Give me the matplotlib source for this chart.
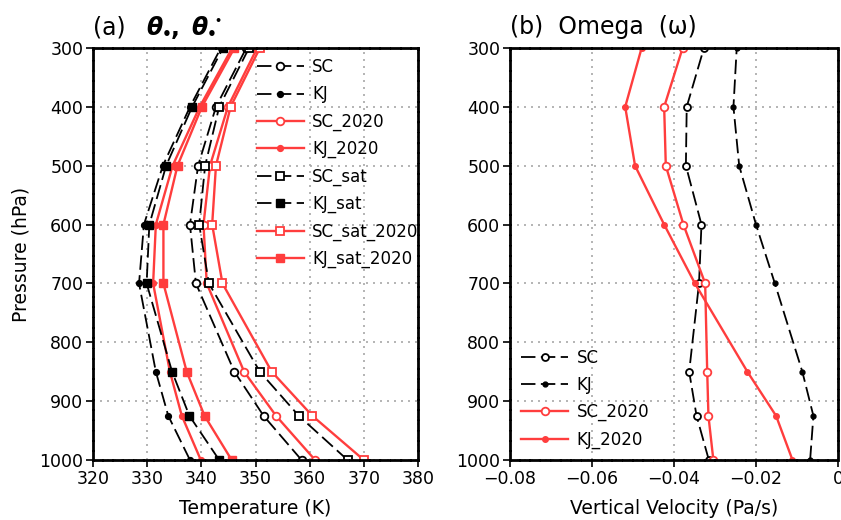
import numpy as np
import matplotlib
matplotlib.use('Agg')
import matplotlib.pyplot as plt

# pressure levels (hPa)
lev = [1000, 925, 850, 700, 600, 500, 400, 300]

# (a) equivalent potential temperature and saturated version (K)
sc = [358.5, 351.5, 346.1, 339.0, 337.9, 339.4, 342.7, 348.3]
kj = [337.9, 333.9, 331.6, 328.5, 329.4, 332.9, 337.9, 343.6]
sc_2020 = [361.0, 353.8, 347.9, 341.0, 340.4, 341.6, 344.9, 350.3]
kj_2020 = [339.9, 336.4, 334.2, 331.1, 331.6, 334.7, 339.7, 345.7]
sc_sat = [367.0, 358.0, 350.8, 341.4, 339.6, 340.7, 343.3, 348.8]
kj_sat = [343.3, 337.8, 334.6, 329.9, 330.4, 333.5, 338.3, 344.0]
sc_sat_2020 = [370.0, 360.5, 353.0, 343.9, 342.0, 342.7, 345.4, 350.8]
kj_sat_2020 = [345.6, 340.6, 337.3, 333.0, 333.0, 335.6, 340.1, 346.1]

# (b) omega (Pa/s)
w_sc = [-0.0315, -0.0345, -0.0363, -0.0339, -0.0333, -0.0371, -0.0369, -0.0327]
w_kj = [-0.0068, -0.0060, -0.0087, -0.0154, -0.0200, -0.0241, -0.0255, -0.0247]
w_sc_2020 = [-0.0304, -0.0316, -0.0319, -0.0324, -0.0377, -0.0420, -0.0424, -0.0379]
w_kj_2020 = [-0.0111, -0.0151, -0.0221, -0.0349, -0.0424, -0.0495, -0.0519, -0.0479]

temp_ticks = [320, 330, 340, 350, 360, 370, 380]
w_ticks = [-0.08, -0.06, -0.04, -0.02, 0]
w_labels = ['\u22120.08', '\u22120.06', '\u22120.04', '\u22120.02', '0']
p_ticks = [300, 400, 500, 600, 700, 800, 900, 1000]

RED = '#ff3d3d'
dash = (0, (8, 3))

fig = plt.figure(figsize=(8.41, 5.2), dpi=100)
ax1 = fig.add_axes([93/841, 60/520, 325/841, 412/520])
ax2 = fig.add_axes([510/841, 60/520, 328/841, 412/520])


def style(ax):
    ax.set_ylim(1000, 300)
    ax.set_yticks(p_ticks)
    ax.grid(True, color='#a8a8a8', linestyle=(0, (1.2, 3)), linewidth=1.2)
    for s in ax.spines.values():
        s.set_linewidth(2)
        s.set_linestyle((0, (3, 0.7)))
    ax.tick_params(direction='out', length=5, width=1.2, labelsize=12.5, pad=2)


# panel (a)
ax1.plot(sc, lev, color='k', ls=dash, lw=1.3, marker='o', ms=5.5, mfc='white', mew=1.3, label='SC')
ax1.plot(kj, lev, color='k', ls=dash, lw=1.3, marker='o', ms=4.2, label='KJ')
ax1.plot(sc_2020, lev, color=RED, lw=1.7, marker='o', ms=5.5, mfc='white', mew=1.3, label='SC_2020')
ax1.plot(kj_2020, lev, color=RED, lw=1.7, marker='o', ms=4.2, label='KJ_2020')
ax1.plot(sc_sat, lev, color='k', ls=dash, lw=1.3, marker='s', ms=5.5, mfc='white', mew=1.3, label='SC_sat')
ax1.plot(kj_sat, lev, color='k', ls=dash, lw=1.3, marker='s', ms=5.5, label='KJ_sat')
ax1.plot(sc_sat_2020, lev, color=RED, lw=1.7, marker='s', ms=5.5, mfc='white', mew=1.3, label='SC_sat_2020')
ax1.plot(kj_sat_2020, lev, color=RED, lw=1.7, marker='s', ms=5.5, label='KJ_sat_2020')
style(ax1)
ax1.set_xlim(320, 380)
ax1.set_xticks(temp_ticks)
ax1.set_xlabel('Temperature (K)', fontsize=13.5, labelpad=8)
ax1.set_ylabel('Pressure (hPa)', fontsize=13.5, labelpad=6)
ax1.legend(loc='upper left', bbox_to_anchor=(0.505, 0.975), frameon=False, fontsize=12,
           borderpad=0, borderaxespad=0, handlelength=2.8, labelspacing=0.55, handletextpad=0.5)

# title (a): theta_e, theta_e* drawn piece by piece
base = 485
fig.text(93/841, base/520, '(a)', fontsize=17, va='baseline')
for x0, star in [(146, False), (191, True)]:
    fig.text(x0/841, base/520, '\u03b8', fontsize=17, fontweight='bold', fontstyle='italic', va='baseline')
    fig.text((x0 + 16)/841, (base - 4)/520, '\u2022', fontsize=11, fontweight='bold', va='baseline')
    if star:
        fig.text((x0 + 23)/841, (base + 11)/520, '\u2022', fontsize=8, fontweight='bold', va='baseline')
    else:
        fig.text((x0 + 25)/841, base/520, ',', fontsize=17, fontweight='bold', va='baseline')

# panel (b)
ax2.plot(w_sc, lev, color='k', ls=dash, lw=1.3, marker='o', ms=5, mfc='white', mew=1.3, label='SC')
ax2.plot(w_kj, lev, color='k', ls=dash, lw=1.3, marker='o', ms=3.5, label='KJ')
ax2.plot(w_sc_2020, lev, color=RED, lw=1.7, marker='o', ms=5.5, mfc='white', mew=1.3, label='SC_2020')
ax2.plot(w_kj_2020, lev, color=RED, lw=1.7, marker='o', ms=4, label='KJ_2020')
style(ax2)
ax2.set_xlim(-0.08, 0)
ax2.set_xticks(w_ticks)
ax2.set_xticklabels(w_labels)
ax2.set_xlabel('Vertical Velocity (Pa/s)', fontsize=13.5, labelpad=8)
ax2.set_title('(b)  Omega  (\u03c9)', loc='left', fontsize=17, pad=10)
ax2.legend(loc='upper left', bbox_to_anchor=(0.035, 0.27), frameon=False, fontsize=12,
           borderpad=0, borderaxespad=0, handlelength=2.8, labelspacing=0.55, handletextpad=0.5)

fig.savefig('out.png', dpi=100)
